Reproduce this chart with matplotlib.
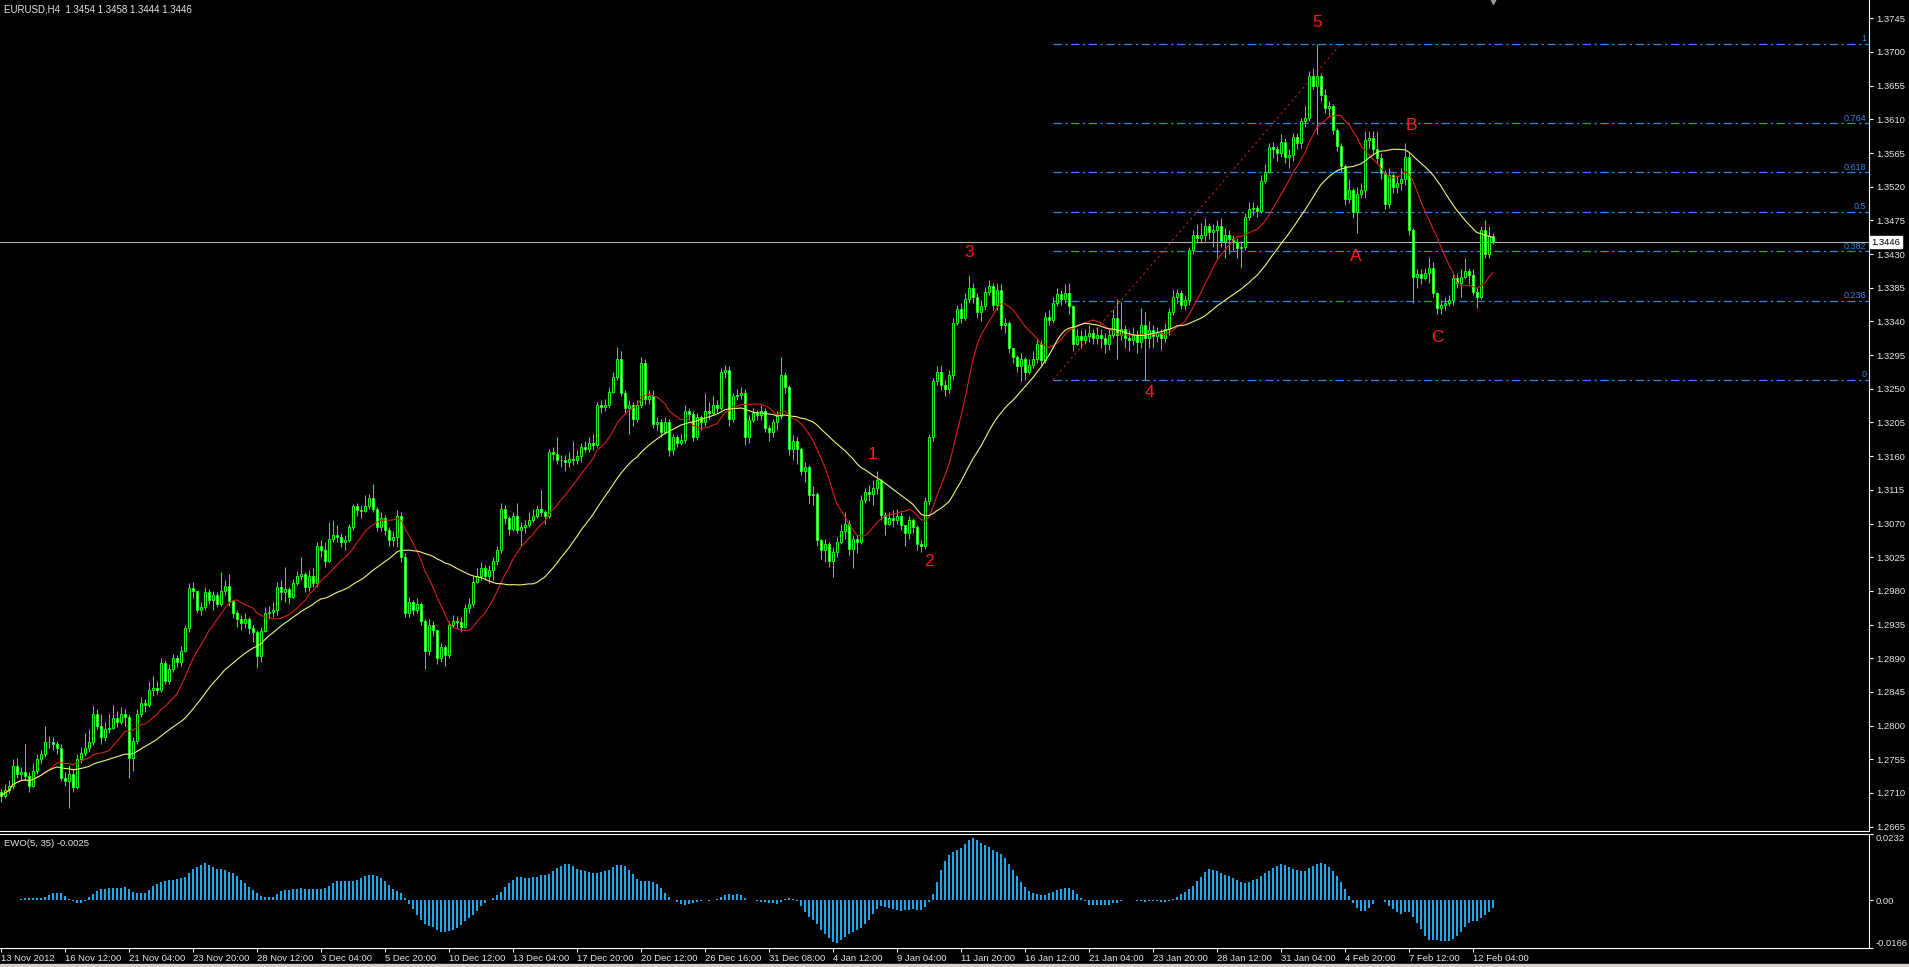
import numpy as np
import pandas as pd
import matplotlib
matplotlib.use('Agg')
import matplotlib.pyplot as plt
from matplotlib import transforms
from matplotlib.patches import Rectangle

plt.rcParams['font.family'] = ['Liberation Sans', 'DejaVu Sans']
plt.rcParams['lines.scale_dashes'] = False

# EURUSD H4, first bar 13 Nov 2012 20:00
first_open = 1.2712
closes = [
    1.2706, 1.2714, 1.2720, 1.2746, 1.2735, 1.2738, 1.2733, 1.2720, 1.2740, 1.2756, 1.2762, 1.2778, 1.2778, 1.2775, 1.2770, 1.2730,
    1.2726, 1.2735, 1.2718, 1.2755, 1.2764, 1.2770, 1.2778, 1.2816, 1.2800, 1.2785, 1.2795, 1.2797, 1.2810, 1.2805, 1.2815, 1.2812,
    1.2757, 1.2780, 1.2816, 1.2830, 1.2828, 1.2847, 1.2850, 1.2848, 1.2884, 1.2860, 1.2876, 1.2890, 1.2885, 1.2900, 1.2930, 1.2984,
    1.2980, 1.2955, 1.2958, 1.2978, 1.2968, 1.2975, 1.2962, 1.2980, 1.2986, 1.2966, 1.2950, 1.2942, 1.2937, 1.2942, 1.2930, 1.2925,
    1.2893, 1.2927, 1.2950, 1.2952, 1.2955, 1.2985, 1.2978, 1.2982, 1.2972, 1.2990, 1.3000, 1.3002, 1.2985, 1.3000, 1.2990, 1.3040,
    1.3035, 1.3020, 1.3050, 1.3055, 1.3052, 1.3045, 1.3048, 1.3065, 1.3093, 1.3088, 1.3087, 1.3093, 1.3104, 1.3090, 1.3065, 1.3078,
    1.3062, 1.3048, 1.3052, 1.3080, 1.3025, 1.2950, 1.2965, 1.2955, 1.2962, 1.2940, 1.2900, 1.2935, 1.2928, 1.2890, 1.2905, 1.2895,
    1.2935, 1.2940, 1.2938, 1.2932, 1.2957, 1.2962, 1.2992, 1.3000, 1.3010, 1.3000, 1.3008, 1.3020, 1.3035, 1.3090, 1.3078, 1.3063,
    1.3080, 1.3062, 1.3065, 1.3068, 1.3075, 1.3080, 1.3090, 1.3085, 1.3080, 1.3165, 1.3163, 1.3155, 1.3155, 1.3152, 1.3156, 1.3155,
    1.3160, 1.3172, 1.3170, 1.3178, 1.3175, 1.3228, 1.3226, 1.3228, 1.3246, 1.3266, 1.3290, 1.3245, 1.3225, 1.3228, 1.3210, 1.3228,
    1.3284, 1.3236, 1.3240, 1.3203, 1.3205, 1.3192, 1.3205, 1.3168, 1.3185, 1.3178, 1.3182, 1.3220, 1.3216, 1.3185, 1.3212, 1.3205,
    1.3220, 1.3218, 1.3228, 1.3225, 1.3272, 1.3275, 1.3210, 1.3240, 1.3242, 1.3245, 1.3186, 1.3208, 1.3218, 1.3215, 1.3220, 1.3198,
    1.3192, 1.3205, 1.3214, 1.3268, 1.3252, 1.3170, 1.3180, 1.3170, 1.3140, 1.3145, 1.3108, 1.3110, 1.3048, 1.3035, 1.3042, 1.3020,
    1.3032, 1.3046, 1.3060, 1.3070, 1.3036, 1.3050, 1.3045, 1.3102, 1.3112, 1.3110, 1.3118, 1.3128, 1.3082, 1.3070, 1.3078, 1.3075,
    1.3080, 1.3068, 1.3058, 1.3075, 1.3065, 1.3042, 1.3040, 1.3100, 1.3185, 1.3260, 1.3272, 1.3255, 1.3250, 1.3268, 1.3338, 1.3357,
    1.3345, 1.3370, 1.3385, 1.3372, 1.3352, 1.3360, 1.3380, 1.3388, 1.3362, 1.3382, 1.3335, 1.3338, 1.3304, 1.3292, 1.3280, 1.3290,
    1.3272, 1.3282, 1.3290, 1.3310, 1.3288, 1.3346, 1.3342, 1.3365, 1.3376, 1.3370, 1.3378, 1.3360, 1.3310, 1.3320, 1.3315, 1.3320,
    1.3325, 1.3318, 1.3322, 1.3318, 1.3310, 1.3322, 1.3345, 1.3322, 1.3330, 1.3318, 1.3315, 1.3322, 1.3312, 1.3335, 1.3318, 1.3328,
    1.3320, 1.3325, 1.3318, 1.3330, 1.3352, 1.3372, 1.3378, 1.3362, 1.3368, 1.3435, 1.3455, 1.3452, 1.3455, 1.3468, 1.3460, 1.3462,
    1.3468, 1.3447, 1.3455, 1.3450, 1.3446, 1.3438, 1.3440, 1.3480, 1.3490, 1.3492, 1.3488, 1.3528, 1.3540, 1.3573, 1.3570, 1.3565,
    1.3580, 1.3560, 1.3562, 1.3586, 1.3578, 1.3608, 1.3612, 1.3668, 1.3655, 1.3668, 1.3642, 1.3625, 1.3628, 1.3596, 1.3575, 1.3548,
    1.3503, 1.3515, 1.3486, 1.3510, 1.3515, 1.3582, 1.3585, 1.3570, 1.3558, 1.3538, 1.3497, 1.3535, 1.3520, 1.3525, 1.3530, 1.3560,
    1.3462, 1.3400, 1.3403, 1.3398, 1.3405, 1.3412, 1.3378, 1.3358, 1.3362, 1.3365, 1.3368, 1.3398, 1.3392, 1.3400, 1.3408, 1.3402,
    1.3380, 1.3372, 1.3462, 1.3430, 1.3454, 1.3446,
]
highs = [
    1.2716, 1.2722, 1.2728, 1.2756, 1.2757, 1.2745, 1.2776, 1.2738, 1.2750, 1.2762, 1.2768, 1.2800, 1.2786, 1.2785, 1.2780, 1.2776,
    1.2738, 1.2748, 1.2742, 1.2762, 1.2772, 1.2790, 1.2795, 1.2826, 1.2822, 1.2815, 1.2805, 1.2815, 1.2828, 1.2820, 1.2825, 1.2822,
    1.2815, 1.2785, 1.2822, 1.2838, 1.2835, 1.2858, 1.2866, 1.2860, 1.2890, 1.2888, 1.2882, 1.2896, 1.2895, 1.2906, 1.2935, 1.2990,
    1.2992, 1.2980, 1.2965, 1.2985, 1.2982, 1.2980, 1.2978, 1.3005, 1.2994, 1.3002, 1.2968, 1.2955, 1.2948, 1.2950, 1.2945, 1.2935,
    1.2928, 1.2932, 1.2958, 1.2960, 1.2965, 1.2992, 1.2995, 1.3012, 1.2985, 1.2996, 1.3006, 1.3025, 1.3005, 1.3008, 1.3010, 1.3045,
    1.3048, 1.3045, 1.3072, 1.3075, 1.3068, 1.3058, 1.3055, 1.3070, 1.3096, 1.3098, 1.3095, 1.3108, 1.3110, 1.3123, 1.3092, 1.3085,
    1.3082, 1.3065, 1.3060, 1.3088, 1.3085, 1.3030, 1.2972, 1.2968, 1.2970, 1.2965, 1.2942, 1.2942, 1.2940, 1.2928, 1.2910, 1.2908,
    1.2940, 1.2948, 1.2946, 1.2945, 1.2962, 1.2970, 1.3000, 1.3010, 1.3018, 1.3015, 1.3015, 1.3025, 1.3040, 1.3098, 1.3095, 1.3080,
    1.3086, 1.3098, 1.3072, 1.3075, 1.3085, 1.3090, 1.3095, 1.3115, 1.3088, 1.3170, 1.3172, 1.3185, 1.3162, 1.3162, 1.3165, 1.3180,
    1.3168, 1.3178, 1.3180, 1.3185, 1.3190, 1.3232, 1.3235, 1.3236, 1.3252, 1.3272, 1.3306, 1.3300, 1.3248, 1.3235, 1.3232, 1.3235,
    1.3293, 1.3290, 1.3248, 1.3248, 1.3212, 1.3210, 1.3212, 1.3210, 1.3190, 1.3188, 1.3190, 1.3228, 1.3225, 1.3220, 1.3218, 1.3215,
    1.3245, 1.3232, 1.3240, 1.3235, 1.3278, 1.3282, 1.3280, 1.3245, 1.3250, 1.3252, 1.3250, 1.3215, 1.3225, 1.3222, 1.3228, 1.3225,
    1.3202, 1.3210, 1.3220, 1.3293, 1.3272, 1.3255, 1.3188, 1.3185, 1.3172, 1.3152, 1.3148, 1.3120, 1.3112, 1.3050, 1.3050, 1.3045,
    1.3038, 1.3052, 1.3070, 1.3085, 1.3075, 1.3055, 1.3055, 1.3108, 1.3118, 1.3122, 1.3128, 1.3140, 1.3130, 1.3085, 1.3085, 1.3088,
    1.3090, 1.3085, 1.3068, 1.3080, 1.3078, 1.3068, 1.3048, 1.3105, 1.3190, 1.3265, 1.3280, 1.3282, 1.3262, 1.3275, 1.3345, 1.3362,
    1.3365, 1.3378, 1.3402, 1.3392, 1.3378, 1.3368, 1.3386, 1.3396, 1.3392, 1.3392, 1.3390, 1.3345, 1.3340, 1.3305, 1.3295, 1.3298,
    1.3292, 1.3290, 1.3300, 1.3318, 1.3315, 1.3352, 1.3355, 1.3372, 1.3385, 1.3382, 1.3390, 1.3392, 1.3362, 1.3330, 1.3328, 1.3330,
    1.3335, 1.3330, 1.3332, 1.3330, 1.3325, 1.3330, 1.3356, 1.3370, 1.3366, 1.3335, 1.3328, 1.3332, 1.3328, 1.3358, 1.3352, 1.3340,
    1.3335, 1.3333, 1.3330, 1.3338, 1.3358, 1.3382, 1.3384, 1.3382, 1.3375, 1.3440, 1.3462, 1.3470, 1.3472, 1.3478, 1.3472, 1.3470,
    1.3476, 1.3478, 1.3465, 1.3462, 1.3455, 1.3452, 1.3448, 1.3485, 1.3500, 1.3500, 1.3496, 1.3535, 1.3550, 1.3578, 1.3580, 1.3575,
    1.3590, 1.3585, 1.3570, 1.3592, 1.3592, 1.3612, 1.3628, 1.3675, 1.3678, 1.3711, 1.3672, 1.3650, 1.3635, 1.3630, 1.3598, 1.3578,
    1.3550, 1.3530, 1.3518, 1.3520, 1.3525, 1.3595, 1.3595, 1.3595, 1.3595, 1.3565, 1.3542, 1.3545, 1.3538, 1.3535, 1.3545, 1.3578,
    1.3565, 1.3465, 1.3410, 1.3410, 1.3412, 1.3426, 1.3420, 1.3380, 1.3368, 1.3372, 1.3375, 1.3405, 1.3405, 1.3410, 1.3425, 1.3412,
    1.3410, 1.3385, 1.3468, 1.3476, 1.3468, 1.3458,
]
lows = [
    1.2698, 1.2703, 1.2710, 1.2716, 1.2730, 1.2728, 1.2728, 1.2712, 1.2718, 1.2736, 1.2750, 1.2758, 1.2770, 1.2768, 1.2762, 1.2726,
    1.2719, 1.2690, 1.2712, 1.2716, 1.2750, 1.2760, 1.2765, 1.2774, 1.2795, 1.2775, 1.2780, 1.2790, 1.2795, 1.2798, 1.2802, 1.2800,
    1.2730, 1.2740, 1.2775, 1.2812, 1.2818, 1.2825, 1.2840, 1.2842, 1.2845, 1.2855, 1.2855, 1.2872, 1.2878, 1.2880, 1.2898, 1.2925,
    1.2970, 1.2950, 1.2948, 1.2955, 1.2962, 1.2955, 1.2958, 1.2960, 1.2975, 1.2960, 1.2944, 1.2932, 1.2928, 1.2930, 1.2922, 1.2912,
    1.2877, 1.2885, 1.2925, 1.2942, 1.2945, 1.2948, 1.2968, 1.2965, 1.2962, 1.2970, 1.2988, 1.2995, 1.2978, 1.2980, 1.2985, 1.2985,
    1.3025, 1.3012, 1.3018, 1.3045, 1.3045, 1.3038, 1.3035, 1.3045, 1.3062, 1.3080, 1.3078, 1.3085, 1.3090, 1.3085, 1.3060, 1.3060,
    1.3055, 1.3040, 1.3040, 1.3038, 1.3018, 1.2945, 1.2945, 1.2948, 1.2950, 1.2935, 1.2875, 1.2895, 1.2920, 1.2882, 1.2885, 1.2880,
    1.2890, 1.2930, 1.2930, 1.2925, 1.2930, 1.2950, 1.2958, 1.2990, 1.2995, 1.2995, 1.2990, 1.2995, 1.3015, 1.3030, 1.3070, 1.3055,
    1.3060, 1.3058, 1.3040, 1.3058, 1.3065, 1.3072, 1.3078, 1.3080, 1.3070, 1.3078, 1.3155, 1.3150, 1.3145, 1.3140, 1.3145, 1.3148,
    1.3150, 1.3152, 1.3165, 1.3165, 1.3168, 1.3172, 1.3218, 1.3220, 1.3224, 1.3245, 1.3262, 1.3240, 1.3218, 1.3190, 1.3200, 1.3205,
    1.3225, 1.3230, 1.3230, 1.3198, 1.3195, 1.3185, 1.3190, 1.3160, 1.3162, 1.3172, 1.3175, 1.3178, 1.3208, 1.3180, 1.3182, 1.3195,
    1.3200, 1.3210, 1.3215, 1.3218, 1.3222, 1.3265, 1.3200, 1.3205, 1.3235, 1.3236, 1.3175, 1.3178, 1.3205, 1.3208, 1.3208, 1.3192,
    1.3180, 1.3185, 1.3195, 1.3210, 1.3245, 1.3162, 1.3155, 1.3150, 1.3135, 1.3125, 1.3098, 1.3095, 1.3040, 1.3022, 1.3018, 1.3012,
    1.2998, 1.3025, 1.3042, 1.3050, 1.3028, 1.3010, 1.3030, 1.3042, 1.3098, 1.3100, 1.3095, 1.3110, 1.3075, 1.3055, 1.3068, 1.3065,
    1.3070, 1.3062, 1.3040, 1.3050, 1.3058, 1.3035, 1.3032, 1.3036, 1.3095, 1.3180, 1.3255, 1.3248, 1.3240, 1.3245, 1.3262, 1.3335,
    1.3338, 1.3342, 1.3365, 1.3365, 1.3345, 1.3340, 1.3355, 1.3375, 1.3355, 1.3355, 1.3330, 1.3325, 1.3298, 1.3285, 1.3272, 1.3260,
    1.3262, 1.3270, 1.3278, 1.3285, 1.3280, 1.3285, 1.3335, 1.3338, 1.3360, 1.3362, 1.3365, 1.3350, 1.3300, 1.3308, 1.3305, 1.3310,
    1.3312, 1.3310, 1.3310, 1.3305, 1.3298, 1.3302, 1.3318, 1.3290, 1.3315, 1.3305, 1.3300, 1.3308, 1.3298, 1.3305, 1.3262, 1.3305,
    1.3305, 1.3312, 1.3302, 1.3312, 1.3322, 1.3348, 1.3365, 1.3356, 1.3355, 1.3362, 1.3430, 1.3445, 1.3445, 1.3448, 1.3450, 1.3440,
    1.3425, 1.3440, 1.3425, 1.3430, 1.3435, 1.3425, 1.3411, 1.3435, 1.3475, 1.3482, 1.3480, 1.3485, 1.3525, 1.3538, 1.3558, 1.3555,
    1.3560, 1.3552, 1.3545, 1.3555, 1.3570, 1.3572, 1.3600, 1.3608, 1.3650, 1.3590, 1.3635, 1.3618, 1.3615, 1.3590, 1.3568, 1.3540,
    1.3495, 1.3498, 1.3478, 1.3458, 1.3505, 1.3505, 1.3572, 1.3562, 1.3550, 1.3530, 1.3490, 1.3492, 1.3512, 1.3512, 1.3515, 1.3522,
    1.3455, 1.3365, 1.3385, 1.3390, 1.3395, 1.3392, 1.3372, 1.3350, 1.3350, 1.3355, 1.3360, 1.3362, 1.3385, 1.3372, 1.3398, 1.3390,
    1.3375, 1.3358, 1.3370, 1.3425, 1.3425, 1.3444,
]

date_labels = ['13 Nov 2012', '16 Nov 12:00', '21 Nov 04:00', '23 Nov 20:00', '28 Nov 12:00',
               '3 Dec 04:00', '5 Dec 20:00', '10 Dec 12:00', '13 Dec 04:00', '17 Dec 20:00',
               '20 Dec 12:00', '26 Dec 16:00', '31 Dec 08:00', '4 Jan 12:00', '9 Jan 04:00',
               '11 Jan 20:00', '16 Jan 12:00', '21 Jan 04:00', '23 Jan 20:00', '28 Jan 12:00',
               '31 Jan 04:00', '4 Feb 20:00', '7 Feb 12:00', '12 Feb 04:00']
bars_per_label = 16

fib_low, fib_high = 1.3262, 1.3711
fib_ratios = [0, 0.236, 0.382, 0.5, 0.618, 0.764, 1]
fib_names = ['0', '0.236', '0.382', '0.5', '0.618', '0.764', '1']
fib_bar0, fib_bar1 = 263, 335

last_price = 1.3446
price_ticks = [1.2665 + 0.0045 * k for k in range(25)]

# ---- derived series (indicators on the prices above)
c = np.array(closes)
h = np.array(highs)
l = np.array(lows)
o = np.r_[first_open, c[:-1]]
x = np.arange(len(c))
ma_fast = pd.Series(c).rolling(13, min_periods=1).mean()
ma_slow = pd.Series(c).rolling(34, min_periods=1).mean()
med = pd.Series((h + l) / 2)
ewo = med.rolling(5, min_periods=1).mean() - med.rolling(35, min_periods=1).mean()

LIME = '#22ee22'
BEAR = '#e4ffe0'
FIB = '#2f86e0'
TXT = '#e6e6e6'
PX = 0.72

W, H = 1909, 967
def rect(x0, y0, x1, y1):
    return [x0 / W, 1 - y1 / H, (x1 - x0) / W, (y1 - y0) / H]

fig = plt.figure(figsize=(W / 100, H / 100), dpi=100, facecolor='black')
ax = fig.add_axes(rect(0, 0, 1869, 831), facecolor='black')
axe = fig.add_axes(rect(0, 834, 1869, 948), facecolor='black', sharex=ax)

# candles
ax.vlines(x, l, h, color=LIME, lw=PX, zorder=3)
up = c >= o
body_lo = np.minimum(o, c)
body_h = np.abs(c - o)
ax.bar(x[up], body_h[up], bottom=body_lo[up], width=0.55, color='black',
       edgecolor=LIME, linewidth=PX, zorder=4)
ax.bar(x[~up], body_h[~up], bottom=body_lo[~up], width=0.55, color=BEAR,
       edgecolor=LIME, linewidth=PX, zorder=4)

ax.plot(x, ma_fast, color='#d42020', lw=0.8, zorder=5)
ax.plot(x, ma_slow, color='#f2f27a', lw=0.8, zorder=5)

# fibo retracement
xmax = 467
for r, name in zip(fib_ratios, fib_names):
    lvl = fib_low + r * (fib_high - fib_low)
    ax.hlines(lvl, fib_bar0, xmax, colors=FIB, lw=0.9, linestyles=(0, (6, 2.5, 1.7, 2.5)), zorder=2)
    ax.text(466.3, lvl + 0.00006, name, color=FIB, fontsize=6.5, ha='right', va='bottom')
ax.plot([fib_bar0, fib_bar1], [fib_low, fib_high], color='#c42020', lw=0.8, ls=(0, (1.5, 2.5)), zorder=2)

ax.axhline(last_price, color='#b4b4b4', lw=0.8, zorder=1)

waves = [('1', 218, 1.3162), ('2', 232, 1.3019), ('3', 242, 1.3432), ('4', 287, 1.3245),
         ('5', 329, 1.3740), ('A', 338.7, 1.3427), ('B', 352.7, 1.3602), ('C', 359.2, 1.3319)]
for txt, bx, by in waves:
    ax.text(bx, by, txt, color='#ff1a1a', fontsize=12.5, ha='center', va='center')

ytop = 1.3745 + 18.3 / 7485
ybot = 1.3745 - (831 - 18.3) / 7485
ax.set_xlim(-0.25, xmax)
ax.set_ylim(ybot, ytop)
ax.plot([373], [ytop], marker='v', color='#9a9a9a', ms=6, clip_on=False, zorder=6)

ax.yaxis.tick_right()
ax.set_yticks(price_ticks)
ax.set_yticklabels([f'{v:.4f}' for v in price_ticks])
ax.tick_params(axis='y', colors='white', labelcolor=TXT, labelsize=6.8, length=3, width=0.8, pad=2)
ax.tick_params(axis='x', bottom=False, labelbottom=False)
for s in ['top', 'left']:
    ax.spines[s].set_visible(False)
for s in ['right', 'bottom']:
    ax.spines[s].set_color('white')
    ax.spines[s].set_linewidth(0.8)

tr = transforms.blended_transform_factory(ax.transAxes, ax.transData)
ax.text(1.0012, last_price, f'{last_price:.4f}', transform=tr, ha='left', va='center',
        fontsize=6.8, color='black',
        bbox=dict(boxstyle='square,pad=0.15', fc='white', ec='white'))

# EWO panel
axe.bar(x, ewo, width=0.72, color='#1ea6e6', linewidth=0)
axe.set_ylim(-0.0166, 0.0232)
axe.yaxis.tick_right()
axe.set_yticks([-0.0166, 0.0, 0.0232])
axe.set_yticklabels(['-0.0166', '0.00', '0.0232'])
yl = axe.get_yticklabels()
yl[0].set_va('bottom')
yl[2].set_va('top')
axe.tick_params(axis='y', colors='white', labelcolor=TXT, labelsize=6.8, length=3, width=0.8, pad=2)
ticks = [i * bars_per_label for i in range(len(date_labels))]
axe.set_xticks(ticks)
axe.set_xticklabels(date_labels)
for t in axe.get_xticklabels():
    t.set_ha('left')
axe.tick_params(axis='x', colors='white', labelcolor=TXT, labelsize=6.8, length=3, width=0.8, pad=1)
axe.spines['left'].set_visible(False)
for s in ['top', 'right', 'bottom']:
    axe.spines[s].set_color('white')
    axe.spines[s].set_linewidth(0.8)

fig.text(4 / W, 1 - 9 / H, 'EURUSD,H4  1.3454 1.3458 1.3444 1.3446', color=TXT, fontsize=7, va='center')
fig.text(4 / W, 1 - 843 / H, 'EWO(5, 35) -0.0025', color=TXT, fontsize=6.8, va='center')
fig.patches.append(Rectangle((0, 0), 1, 3 / H, transform=fig.transFigure, color='#d4d0c8', zorder=0))

fig.savefig('out.png', dpi=100, facecolor='black')
